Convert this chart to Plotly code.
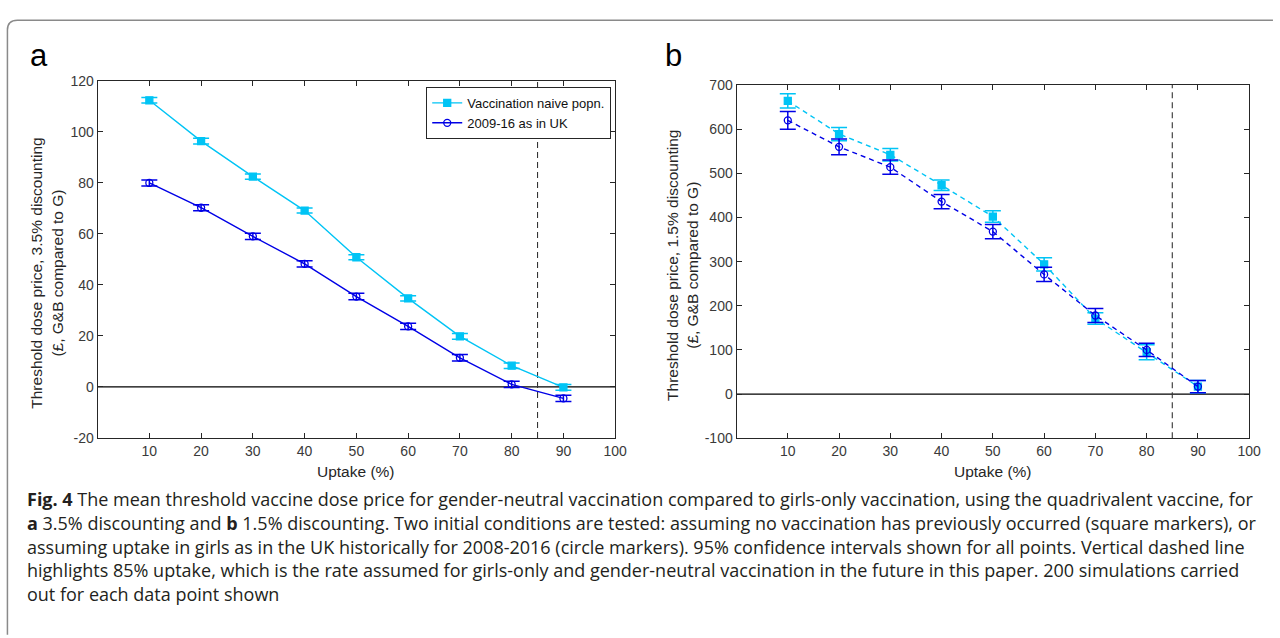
import plotly.graph_objects as go

# ---------------- data ----------------
uptake = [10, 20, 30, 40, 50, 60, 70, 80, 90]

a_naive = [112.3, 96.3, 82.4, 69.1, 50.8, 34.7, 19.8, 8.3, -0.2]
a_naive_err = [1.1, 1.1, 1.0, 1.0, 1.0, 1.0, 1.1, 1.1, 1.1]
a_uk = [79.9, 70.2, 59.0, 48.2, 35.4, 23.7, 11.4, 1.0, -4.5]
a_uk_err = [1.2, 1.2, 1.2, 1.2, 1.3, 1.2, 1.3, 1.2, 1.2]

b_naive = [664, 589, 542, 473, 402, 294, 171, 95, 17]
b_naive_err = [16, 15, 14, 12, 13, 15, 13, 17, 14]
b_uk = [620, 560, 514, 436, 368, 271, 178, 100, 17]
b_uk_err = [20, 18, 16, 16, 16, 16, 16, 15, 14]

series_names = ["Vaccination naive popn.", "2009-16 as in UK"]
x_ticks = [0, 10, 20, 30, 40, 50, 60, 70, 80, 90, 100]
x_ticktext = ["", "10", "20", "30", "40", "50", "60", "70", "80", "90", "100"]
a_yticks = [-20, 0, 20, 40, 60, 80, 100, 120]
a_yticktext = ["-20", "0", "20", "40", "60", "80", "100", "120"]
b_yticks = [-100, 0, 100, 200, 300, 400, 500, 600, 700]
b_yticktext = ["-100", "0", "100", "200", "300", "400", "500", "600", "700"]
threshold_uptake = 85

caption_lines = [
    "<b>Fig. 4</b> The mean threshold vaccine dose price for gender-neutral vaccination compared to girls-only vaccination, using the quadrivalent vaccine, for",
    "<b>a</b> 3.5% discounting and <b>b</b> 1.5% discounting. Two initial conditions are tested: assuming no vaccination has previously occurred (square markers), or",
    "assuming uptake in girls as in the UK historically for 2008-2016 (circle markers). 95% confidence intervals shown for all points. Vertical dashed line",
    "highlights 85% uptake, which is the rate assumed for girls-only and gender-neutral vaccination in the future in this paper. 200 simulations carried",
    "out for each data point shown",
]

CYAN = "#00C4F5"
BLUE = "#0000E6"
AXC = "#262626"
W, H = 1280, 638
AXFONT = "Liberation Sans, Arial, Helvetica"

fig = go.Figure()

def add_series(x, y, err, color, symbol, name, xa, ya, dash, show):
    fig.add_trace(go.Scatter(
        x=x, y=y, mode="lines+markers", name=name, showlegend=show,
        xaxis=xa, yaxis=ya,
        line=dict(color=color, width=1.4, dash=dash),
        marker=dict(symbol=symbol, size=7, color=color,
                    line=dict(color=color, width=1.3)),
        error_y=dict(type="data", array=err, visible=True, color=color,
                     thickness=1.5, width=8),
    ))

add_series(uptake, a_naive, a_naive_err, CYAN, "square", series_names[0], "x", "y", "solid", True)
add_series(uptake, a_uk, a_uk_err, BLUE, "circle-open", series_names[1], "x", "y", "solid", True)
add_series(uptake, b_naive, b_naive_err, CYAN, "square", series_names[0], "x2", "y2", "5px,4px", False)
add_series(uptake, b_uk, b_uk_err, BLUE, "circle-open", series_names[1], "x2", "y2", "5px,4px", False)

def px(v):
    return v / W

def py(v):
    return 1 - v / H

axis_common = dict(
    showline=True, linecolor=AXC, linewidth=1, mirror="ticks",
    ticks="inside", ticklen=5, tickcolor=AXC, tickwidth=1,
    showgrid=False, zeroline=False, tickmode="array",
    tickfont=dict(family=AXFONT, size=14, color="#3a3a3a"),
)

fig.update_layout(
    width=W, height=H, autosize=False,
    margin=dict(l=0, r=0, t=0, b=0),
    paper_bgcolor="white", plot_bgcolor="white",
    xaxis=dict(domain=[px(98.5), px(621)], range=[0, 100],
               tickvals=x_ticks, ticktext=x_ticktext, anchor="y", **axis_common),
    yaxis=dict(domain=[py(441), py(74.5)], range=[-20, 120],
               tickvals=a_yticks, ticktext=a_yticktext, anchor="x", **axis_common),
    xaxis2=dict(domain=[px(743.5), px(1261)], range=[0, 100],
                tickvals=x_ticks, ticktext=x_ticktext, anchor="y2", **axis_common),
    yaxis2=dict(domain=[py(441.3), py(79)], range=[-100, 700],
                tickvals=b_yticks, ticktext=b_yticktext, anchor="x2", **axis_common),
    legend=dict(x=px(617), y=py(81), xanchor="right", yanchor="top",
                bordercolor=AXC, borderwidth=1, bgcolor="white",
                font=dict(family=AXFONT, size=13, color="#111"),
                tracegroupgap=0, itemwidth=30),
    showlegend=True,
)

# zero lines and 85% dashed lines
for xa, ya in (("x", "y"), ("x2", "y2")):
    fig.add_shape(type="line", xref=f"{xa} domain", yref=ya, x0=0, x1=1, y0=0, y1=0,
                  line=dict(color="black", width=1.3), layer="below")
    fig.add_shape(type="line", xref=xa, yref=f"{ya} domain", x0=threshold_uptake,
                  x1=threshold_uptake, y0=0, y1=1,
                  line=dict(color="#333333", width=1.1, dash="6px,4px"), layer="below")

# outer rounded border
r = 10
x0, y0 = 7.5, 12.5
path = (f"M {px(x0)},{py(H + 5)} L {px(x0)},{py(y0 + r)} "
        f"Q {px(x0)},{py(y0)} {px(x0 + r)},{py(y0)} L {px(W + 5)},{py(y0)}")
fig.add_shape(type="path", xref="paper", yref="paper", path=path,
              line=dict(color="#8a8a8a", width=1.5))

ann = []
P = dict(xref="paper", yref="paper", showarrow=False)
# panel labels
ann.append(dict(x=px(28), y=py(49), text="a", xanchor="left", yanchor="middle",
                font=dict(family=AXFONT, size=31, color="black"), **P))
ann.append(dict(x=px(669), y=py(49), text="b", xanchor="left", yanchor="middle",
                font=dict(family=AXFONT, size=31, color="black"), **P))
# y titles
ann.append(dict(x=px(47), y=py(272), textangle=-90, xanchor="center", yanchor="middle",
                text="Threshold dose price, 3.5% discounting<br>(£, G&B compared to G)",
                font=dict(family=AXFONT, size=15.5, color="#262626"), **P))
ann.append(dict(x=px(689), y=py(264), textangle=-90, xanchor="center", yanchor="middle",
                text="Threshold dose price, 1.5% discounting<br>(£, G&B compared to G)",
                font=dict(family=AXFONT, size=15.5, color="#262626"), **P))
# x titles
for cx in ((98.5 + 621) / 2, (743.5 + 1261) / 2):
    ann.append(dict(x=px(cx), y=py(475), text="Uptake (%)",
                    xanchor="center", yanchor="middle",
                    font=dict(family=AXFONT, size=15.5, color="#262626"), **P))
# caption
for i, line in enumerate(caption_lines):
    ann.append(dict(x=px(25), y=py(504 + 24.2 * i), text=line,
                    xanchor="left", yanchor="middle", align="left",
                    font=dict(family="Open Sans, Noto Sans", size=18, color="#231f20"), **P))
fig.update_layout(annotations=ann)

fig.write_html("out.html")
